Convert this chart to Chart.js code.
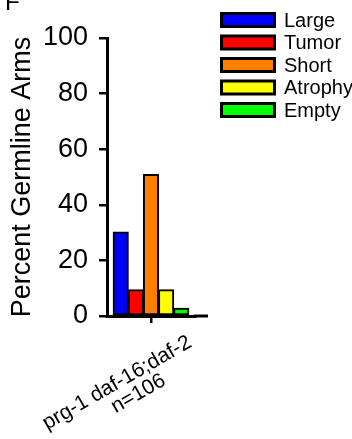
<!DOCTYPE html>
<html>
<head>
<meta charset="utf-8">
<script src="https://cdn.jsdelivr.net/npm/chart.js@4.4.1/dist/chart.umd.min.js"></script>
<style>
  html, body { margin: 0; padding: 0; background: #fff; }
  #wrap { width: 352px; height: 439px; position: relative; }
</style>
</head>
<body>
<div id="wrap"><canvas id="chart"></canvas></div>
<script>
// ── Data ──────────────────────────────────────────────────────────────────────
const strainLabel = ['prg-1 daf-16;daf-2', 'n=106'];
const categories  = ['Large', 'Tumor', 'Short', 'Atrophy', 'Empty'];
const percents    = [30.2, 9.4, 50.9, 9.4, 2.8];
const colors      = ['#0000FF', '#FF0000', '#FF8000', '#FFFF00', '#00FF00'];
const yTicks      = [0, 20, 40, 60, 80, 100];

const FONT = 'Liberation Sans, Arial, sans-serif';

// panel letter, strain label, legend and axis stub
const extras = {
  id: 'extras',
  afterDraw(chart) {
    const { ctx, chartArea: ca, scales: { x } } = chart;
    ctx.save();

    // x axis runs a little past the bars
    ctx.strokeStyle = '#000'; ctx.lineWidth = 3;
    ctx.beginPath(); ctx.moveTo(ca.right - 1, x.top); ctx.lineTo(ca.right + 13, x.top); ctx.stroke();

    // panel letter (clipped by the top edge)
    ctx.fillStyle = '#000';
    ctx.font = '24px ' + FONT;
    ctx.textAlign = 'left'; ctx.textBaseline = 'alphabetic';
    ctx.fillText('F', 5, 10);

    // rotated category label
    const tx = x.getPixelForTick(0);
    ctx.translate(tx - 31, x.top + 72);
    ctx.rotate(-30 * Math.PI / 180);
    ctx.font = '21px ' + FONT;
    ctx.textAlign = 'center';
    ctx.fillText(strainLabel[0], 0, 0);
    ctx.fillText(strainLabel[1], 13, 20);
    ctx.setTransform(1, 0, 0, 1, 0, 0);

    // legend
    ctx.font = '20px ' + FONT;
    ctx.textAlign = 'left'; ctx.textBaseline = 'middle';
    chart.data.datasets.forEach((ds, i) => {
      const top = 12 + i * 22.5;
      ctx.fillStyle = '#000';
      ctx.fillRect(220, top, 56, 16);
      ctx.fillStyle = ds.backgroundColor;
      ctx.fillRect(223, top + 3, 50, 10);
      ctx.fillStyle = '#000';
      ctx.fillText(ds.label, 284, top + 9);
    });
    ctx.restore();
  }
};

new Chart(document.getElementById('chart'), {
  type: 'bar',
  data: {
    labels: [strainLabel.join(' ')],
    datasets: categories.map((c, i) => ({
      label: c,
      data: [percents[i]],
      backgroundColor: colors[i],
      borderColor: '#000',
      borderWidth: 2,
      borderSkipped: false,
      inflateAmount: 0.5,
      categoryPercentage: 0.86,
      barPercentage: 1
    }))
  },
  options: {
    responsive: true, maintainAspectRatio: false, animation: false,
    devicePixelRatio: 1,
    layout: { padding: { top: 38, right: 157, bottom: 0, left: 0 } },
    plugins: { legend: { display: false }, tooltip: { enabled: false } },
    scales: {
      x: {
        afterFit: s => { s.height = 123; },
        grid: { display: true, drawOnChartArea: false, offset: false, tickLength: 7, color: '#000', lineWidth: 2.5 },
        border: { display: true, color: '#000', width: 3 },
        ticks: { display: false }
      },
      y: {
        min: 0, max: 100,
        afterFit: s => { s.width = 107; },
        grid: { display: true, drawOnChartArea: false, tickLength: 8, color: '#000', lineWidth: 2.5 },
        border: { display: true, color: '#000', width: 3 },
        ticks: {
          stepSize: 10, padding: 11, color: '#000',
          font: { family: FONT, size: 27 },
          callback: v => yTicks.includes(v) ? v : ''
        },
        title: {
          display: true, text: 'Percent Germline Arms', color: '#000',
          font: { family: FONT, size: 27 }, padding: { top: 6, bottom: 0 }
        }
      }
    }
  },
  plugins: [extras]
});
</script>
</body>
</html>
